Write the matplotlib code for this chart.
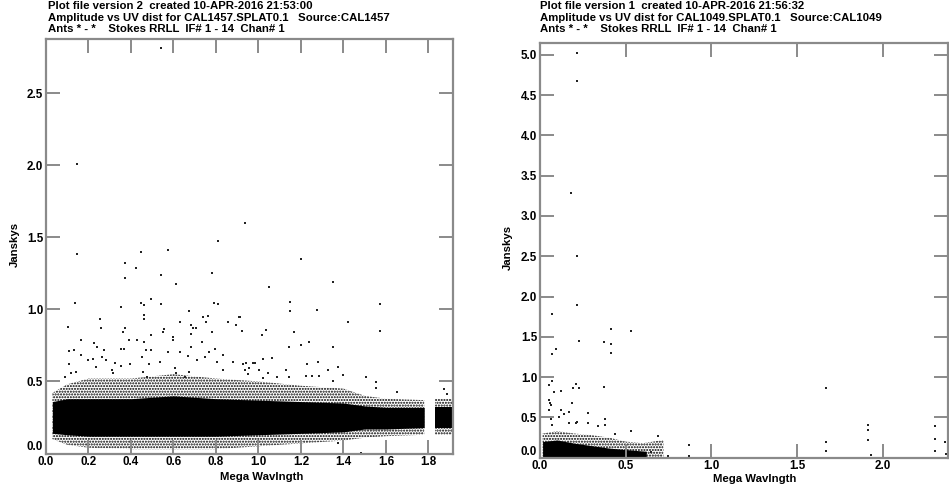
import matplotlib
matplotlib.use("Agg")
import matplotlib.pyplot as plt

plt.rcParams['font.family'] = ['Liberation Sans', 'DejaVu Sans']
plt.rcParams['font.weight'] = 'bold'
plt.rcParams['hatch.linewidth'] = 1.0

# ---------------- Left panel (CAL1457) ----------------
left_titles = ["Plot file version 2  created 10-APR-2016 21:53:00",
               "Amplitude vs UV dist for CAL1457.SPLAT0.1   Source:CAL1457",
               "Ants * - *    Stokes RRLL  IF# 1 - 14  Chan# 1"]
left_xticks = [0.0, 0.2, 0.4, 0.6, 0.8, 1.0, 1.2, 1.4, 1.6, 1.8]
left_yticks = [0.0, 0.5, 1.0, 1.5, 2.0, 2.5]

# dense band envelope (main block)
left_band_x = [0.03, 0.1, 0.2, 0.4, 0.6, 0.8, 1.0, 1.2, 1.4, 1.5, 1.6, 1.78]
left_core_lo = [0.14, 0.13, 0.12, 0.12, 0.12, 0.12, 0.13, 0.14, 0.15, 0.17, 0.17, 0.18]
left_core_hi = [0.36, 0.38, 0.38, 0.38, 0.40, 0.38, 0.37, 0.36, 0.35, 0.33, 0.32, 0.32]
left_fringe_lo = [0.10, 0.06, 0.04, 0.03, 0.03, 0.03, 0.05, 0.07, 0.09, 0.11, 0.12, 0.13]
left_fringe_hi = [0.42, 0.48, 0.52, 0.52, 0.55, 0.52, 0.50, 0.47, 0.45, 0.40, 0.38, 0.37]
# dense band envelope (separate block at the long baselines)
left_band2_x = [1.83, 1.91]
left_core2_lo = [0.18, 0.18]
left_core2_hi = [0.32, 0.32]
left_fringe2_lo = [0.13, 0.13]
left_fringe2_hi = [0.38, 0.38]

left_out_x = [0.541, 0.146, 0.146, 0.938, 0.811, 0.572, 0.446, 0.37, 0.424, 0.541, 0.783, 0.37,
              1.2, 0.61, 0.136, 0.446, 0.461, 0.494, 0.541, 0.351, 0.79, 0.81, 0.102, 0.254,
              0.673, 0.461, 0.461, 0.632, 0.761, 0.737, 0.751, 0.858, 0.908, 0.921, 0.259, 0.37,
              0.362, 0.557, 0.552, 0.681, 0.69, 0.706, 0.681, 0.165, 0.493, 0.599, 0.599, 0.427,
              0.392, 0.461, 0.733, 0.783, 0.227, 0.239, 0.274, 0.132, 0.11, 0.351, 0.367, 0.469,
              0.494, 0.573, 0.631, 0.682, 0.769, 0.795, 0.832, 0.165, 0.198, 0.223, 0.262, 0.282,
              0.325, 0.395, 0.45, 0.483, 0.538, 0.67, 0.709, 0.747, 0.803, 0.881, 0.941, 0.976,
              0.107, 0.234, 0.351, 0.606, 0.834, 0.091, 0.119, 0.141, 0.309, 0.317, 0.458, 0.474,
              0.612, 0.654, 0.674, 0.952, 0.936,
              1.048, 1.349, 1.148, 1.148, 1.274, 1.573, 1.573, 1.42, 1.035, 1.015, 1.166, 0.913,
              0.894, 1.145, 1.2, 1.239, 1.349, 1.062, 1.023, 0.984, 0.929, 1.23, 1.28, 1.376,
              1.328, 1.13, 1.046, 1.004, 0.957, 1.396, 1.504, 1.285, 1.25, 1.224, 1.145, 1.089,
              1.02, 1.352, 1.552, 1.873, 1.552, 1.65, 1.886, 1.376, 1.482]
left_out_y = [2.81, 2.008, 1.385, 1.60, 1.476, 1.41, 1.40, 1.32, 1.29, 1.24, 1.25, 1.22,
              1.35, 1.175, 1.045, 1.045, 1.03, 1.07, 1.04, 1.015, 1.045, 1.035, 0.878, 0.93,
              0.99, 0.96, 0.93, 0.91, 0.955, 0.945, 0.915, 0.913, 0.945, 0.847, 0.868, 0.87,
              0.845, 0.863, 0.84, 0.89, 0.873, 0.868, 0.83, 0.787, 0.822, 0.81, 0.787, 0.787,
              0.79, 0.77, 0.776, 0.84, 0.763, 0.742, 0.719, 0.719, 0.708, 0.727, 0.728, 0.719,
              0.719, 0.705, 0.707, 0.738, 0.707, 0.726, 0.68, 0.684, 0.65, 0.654, 0.668, 0.65,
              0.626, 0.62, 0.668, 0.622, 0.638, 0.677, 0.646, 0.668, 0.638, 0.638, 0.626, 0.63,
              0.62, 0.603, 0.61, 0.596, 0.582, 0.53, 0.557, 0.566, 0.58, 0.557, 0.568, 0.533,
              0.557, 0.533, 0.568, 0.552, 0.58,
              1.154, 1.193, 1.05, 0.985, 0.997, 1.038, 0.851, 0.912, 0.857, 0.823, 0.843, 0.946,
              0.892, 0.742, 0.753, 0.774, 0.738, 0.663, 0.654, 0.63, 0.622, 0.62, 0.637, 0.60,
              0.58, 0.576, 0.557, 0.58, 0.596, 0.543, 0.529, 0.538, 0.538, 0.538, 0.53, 0.53,
              0.523, 0.50, 0.493, 0.446, 0.457, 0.425, 0.413, 0.07, 0.006]

# ---------------- Right panel (CAL1049) ----------------
right_titles = ["Plot file version 1  created 10-APR-2016 21:56:32",
                "Amplitude vs UV dist for CAL1049.SPLAT0.1   Source:CAL1049",
                "Ants * - *    Stokes RRLL  IF# 1 - 14  Chan# 1"]
right_xticks = [0.0, 0.5, 1.0, 1.5, 2.0]
right_yticks = [0.0, 0.5, 1.0, 1.5, 2.0, 2.5, 3.0, 3.5, 4.0, 4.5, 5.0]

right_band_x = [0.015, 0.1, 0.2, 0.3, 0.4, 0.5, 0.62]
right_core_hi = [0.20, 0.22, 0.18, 0.15, 0.12, 0.10, 0.08]
right_fringe_x = [0.015, 0.1, 0.2, 0.3, 0.4, 0.5, 0.6, 0.72]
right_fringe_hi = [0.30, 0.33, 0.30, 0.28, 0.25, 0.20, 0.18, 0.22]

right_out_x = [0.214, 0.214, 0.183, 0.214, 0.068, 0.068, 0.214, 0.416, 0.533, 0.228, 0.371, 0.416,
               0.092, 0.068, 0.416, 0.068, 0.053, 0.212, 0.194, 0.228, 0.371, 0.082, 0.121, 0.053,
               0.06, 0.064, 0.189, 0.053, 0.121, 0.14, 0.169, 0.282, 0.064, 0.111, 0.379, 0.169,
               0.208, 0.218, 0.282, 0.336, 0.379, 0.072, 0.533, 0.436, 0.869, 0.869, 0.749, 0.69,
               0.65, 1.667, 1.667, 1.667, 1.915, 1.915, 1.915, 1.931, 2.304, 2.304, 2.304, 2.363,
               2.367]
right_out_y = [5.02, 4.67, 3.29, 2.50, 1.99, 1.78, 1.89, 1.60, 1.57, 1.45, 1.43, 1.41,
               1.35, 1.29, 1.30, 0.95, 0.90, 0.92, 0.87, 0.865, 0.875, 0.81, 0.825, 0.71,
               0.685, 0.65, 0.685, 0.59, 0.59, 0.54, 0.57, 0.56, 0.485, 0.50, 0.485, 0.43,
               0.425, 0.445, 0.425, 0.395, 0.405, 0.40, 0.33, 0.30, 0.16, 0.02, 0.02, 0.27,
               0.07, 0.866, 0.19, 0.08, 0.40, 0.34, 0.225, 0.03, 0.395, 0.23, 0.08, 0.20,
               0.04]

W, H = 949, 487
fig = plt.figure(figsize=(W / 100, H / 100), dpi=100)
fig.patch.set_facecolor('white')

frame_col = '#8a8a8a'
FS = 8.2


def style_axes(ax, xt, yt, xlim, ylim):
    ax.set_xlim(*xlim)
    ax.set_ylim(*ylim)
    ax.set_xticks(xt)
    ax.set_yticks(yt)
    ax.set_xticklabels([f"{v:.1f}" for v in xt])
    ax.set_yticklabels([f"{v:.1f}" for v in yt])
    for s in ax.spines.values():
        s.set_color(frame_col)
        s.set_linewidth(1.6)
    ax.tick_params(direction='in', length=10, width=1.4, color=frame_col,
                   top=True, right=True, labelsize=8.4, pad=2)
    for lab in ax.get_xticklabels() + ax.get_yticklabels():
        lab.set_fontweight('bold')
    # lift the y-axis "0.0" slightly so it does not collide with the x-axis "0.0"
    ax.get_yticklabels()[0].set_va('bottom')


def px(x, y):
    return x / W, 1 - y / H


# Left panel
axL = fig.add_axes([46 / W, 1 - 453.5 / H, (452.7 - 46) / W, (453.5 - 39) / H])
style_axes(axL, left_xticks, left_yticks, (0, 1.914), (0, 2.875))
axL.fill_between(left_band_x, left_fringe_lo, left_fringe_hi, facecolor='none',
                 edgecolor='black', hatch='......', linewidth=0)
axL.fill_between(left_band_x, left_core_lo, left_core_hi, color='black', linewidth=0)
axL.fill_between(left_band2_x, left_fringe2_lo, left_fringe2_hi, facecolor='none',
                 edgecolor='black', hatch='......', linewidth=0)
axL.fill_between(left_band2_x, left_core2_lo, left_core2_hi, color='black', linewidth=0)
axL.scatter(left_out_x, left_out_y, s=0.8, c='#222222', marker='s', linewidths=0)

# Right panel
axR = fig.add_axes([540 / W, 1 - 457.7 / H, (948 - 540) / W, (457.7 - 42.7) / H])
style_axes(axR, right_xticks, right_yticks, (0, 2.38), (0, 5.15))
axR.fill_between(right_fringe_x, 0, right_fringe_hi, facecolor='none',
                 edgecolor='black', hatch='......', linewidth=0)
axR.fill_between(right_band_x, 0, right_core_hi, color='black', linewidth=0)
axR.scatter(right_out_x, right_out_y, s=0.8, c='#222222', marker='s', linewidths=0)

# Titles
for i, t in enumerate(left_titles):
    fig.text(*px(48, 6 + i * 11.7), t, fontsize=FS, fontweight='bold', va='center', ha='left')
for i, t in enumerate(right_titles):
    fig.text(*px(540, 6 + i * 11.7), t, fontsize=FS, fontweight='bold', va='center', ha='left')

# Axis labels
fig.text(*px(15, 244), "Janskys", rotation=90, fontsize=FS, fontweight='bold', va='center', ha='center')
fig.text(*px(508, 247), "Janskys", rotation=90, fontsize=FS, fontweight='bold', va='center', ha='center')
fig.text(*px(262, 477), "Mega Wavlngth", fontsize=FS, fontweight='bold', va='center', ha='center')
fig.text(*px(755, 479.5), "Mega Wavlngth", fontsize=FS, fontweight='bold', va='center', ha='center')

fig.savefig("out.png", dpi=100, facecolor='white')
